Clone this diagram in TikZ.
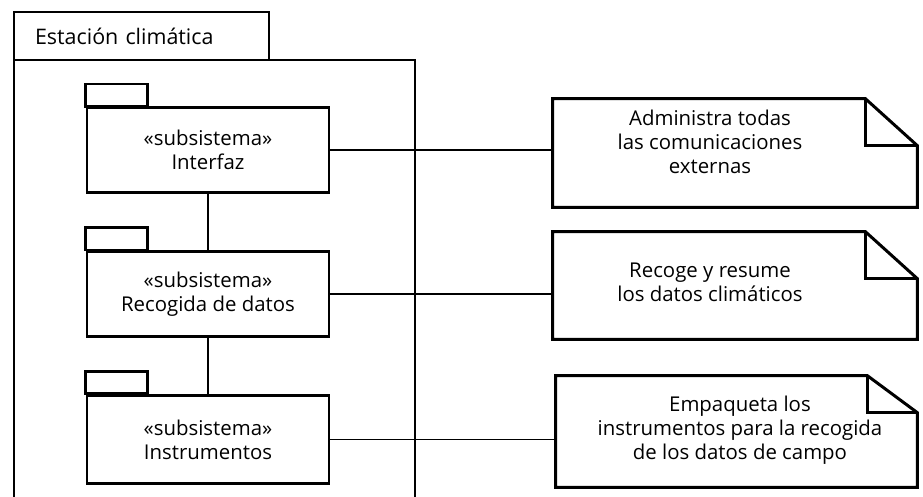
\documentclass[tikz,border=0pt]{standalone}
\usepackage{fontspec}
\setmainfont{Open Sans}
\usepackage{tikz}
\usetikzlibrary{calc, positioning}

\begin{document}
\begin{tikzpicture}[
        thick line/.style={line width=1.7pt, line join=miter},
        link/.style={line width=0.8pt},
        txt/.style={align=center, font=\fontsize{11.6}{13.7}\selectfont},
        subsys/.style={draw, thick line, txt, minimum width=4.84cm, minimum height=1.7cm},
        note/.style={minimum width=7.28cm, minimum height=2.16cm}
    ]
    \useasboundingbox (0,0) rectangle (18.46,9.92);

    % Paquete exterior
    \node[draw, thick line, txt, align=left, font=\fontsize{12.2}{14}\selectfont,
          minimum height=0.96cm, text width=4.26cm, inner xsep=0.42cm] (est) at (2.83,9.20) {Estación climática};
    \draw[thick line] (0.28,-0.1) |- (8.30,8.72) -- (8.30,-0.1);

    % Subsistemas
    \node[subsys] (iface) at (4.16,6.92) {«subsistema»\\Interfaz};
    \node[subsys, below=1.12cm of iface] (datos) {«subsistema»\\Recogida de datos};
    \node[subsys, below=1.12cm of datos, minimum height=1.76cm] (instr) {«subsistema»\\Instrumentos};
    \foreach \n in {iface, datos, instr}
        \draw[thick line] (\n.north west) rectangle ++(1.24,0.44);

    \draw[link] (iface) -- (datos);
    \draw[link] (datos) -- (instr);

    % Notas
    \node[note] (n1) at (14.70,6.86) {};
    \node[note, minimum height=2.14cm] (n2) at (14.70,4.21) {};
    \node[note, minimum width=7.22cm, minimum height=2.22cm] (n3) at (14.73,1.29) {};
    \foreach \n/\fx/\fy in {n1/1.04/0.94, n2/1.04/0.94, n3/1.0/0.74} {
        \draw[thick line] (\n.north west) -- ($(\n.north east)+(-\fx,0)$)
            -- ($(\n.north east)+(0,-\fy)$) -- (\n.south east) -- (\n.south west) -- cycle;
        \draw[thick line] ($(\n.north east)+(-\fx,0)$) |- ($(\n.north east)+(0,-\fy)$);
    }

    \node[txt] (t1) at ($(n1.center)+(-0.5,0.22)$) {Administra todas\\las comunicaciones\\externas};
    \node[txt] (t2) at ($(n2.center)+(-0.5,0.07)$) {Recoge y resume\\los datos climáticos};
    \node[txt] (t3) at ($(n3.center)+(0.07,0.02)$) {Empaqueta los\\instrumentos para la recogida\\de los datos de campo};

    \draw[link] (iface.east) -- (iface.east -| n1.west);
    \draw[link] (datos.east) -- (datos.east -| n2.west);
    \draw[link] (instr.east) -- (instr.east -| n3.west);
\end{tikzpicture}
\end{document}
